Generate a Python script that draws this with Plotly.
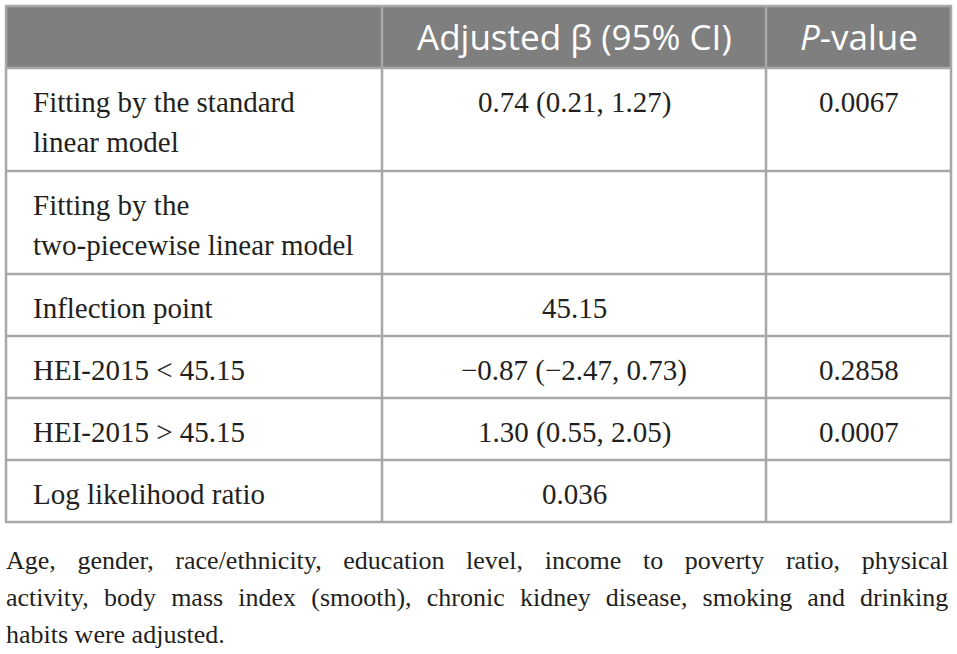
import plotly.graph_objects as go

# ---- data ----
header_labels = ["", "Adjusted β (95% CI)", "<i>P</i>-value"]
row_labels = [
    "Fitting by the standard<br>linear model",
    "Fitting by the<br>two-piecewise linear model",
    "Inflection point",
    "HEI-2015 < 45.15",
    "HEI-2015 > 45.15",
    "Log likelihood ratio",
]
beta_ci = [
    "0.74 (0.21, 1.27)",
    "",
    "45.15",
    "−0.87 (−2.47, 0.73)",
    "1.30 (0.55, 2.05)",
    "0.036",
]
p_values = ["0.0067", "", "", "0.2858", "0.0007", ""]
footnote_lines = [
    "Age, gender, race/ethnicity, education level, income to poverty ratio, physical",
    "activity, body mass index (smooth), chronic kidney disease, smoking and drinking",
    "habits were adjusted.",
]

# ---- layout (pixels) ----
W, H = 957, 654
col_edges = [6, 382, 766, 951]
table_top = 6
header_h = 62
row_h1 = 62      # single-line row height
line_step = 41   # extra height per extra text line
border_col = "#a7a7a7"
header_fill = "#7f7f7f"
text_col = "#231f20"

columns = [row_labels, beta_ci, p_values]
n_rows = len(row_labels)
row_lines = [max(len(c[i].split("<br>")) for c in columns) for i in range(n_rows)]
row_edges = [table_top, table_top + header_h]
for nl in row_lines:
    row_edges.append(row_edges[-1] + row_h1 + line_step * (nl - 1))
table_bottom = row_edges[-1]

fig = go.Figure()
# invisible trace to anchor the pixel axes
fig.add_trace(go.Scatter(x=[0, W], y=[0, H], mode="markers",
                         marker=dict(opacity=0), hoverinfo="skip", showlegend=False))

shapes = []
shapes.append(dict(type="rect", x0=col_edges[0], x1=col_edges[-1], y0=row_edges[0], y1=row_edges[1],
                   fillcolor=header_fill, line=dict(width=0), layer="below"))
for ye in row_edges:
    shapes.append(dict(type="line", x0=col_edges[0] - 1, x1=col_edges[-1] + 1, y0=ye, y1=ye,
                       line=dict(color=border_col, width=2.5)))
for xe in col_edges:
    shapes.append(dict(type="line", x0=xe, x1=xe, y0=row_edges[0], y1=table_bottom,
                       line=dict(color=border_col, width=2.5)))

annotations = []
# header
for j, lab in enumerate(header_labels):
    if not lab:
        continue
    annotations.append(dict(
        text=lab, x=(col_edges[j] + col_edges[j + 1]) / 2, y=row_edges[0] + header_h / 2 - 1,
        xref="x", yref="y", xanchor="center", yanchor="middle", showarrow=False,
        font=dict(family="Open Sans", size=35, color="white")))

# body cells
for j, col in enumerate(columns):
    for i, txt in enumerate(col):
        if not txt:
            continue
        for k, part in enumerate(txt.split("<br>")):
            if j == 0:
                x, xa = col_edges[0] + 25, "left"
            else:
                x, xa = (col_edges[j] + col_edges[j + 1]) / 2, "center"
            annotations.append(dict(
                text=part, x=x, y=row_edges[i + 1] + 34 + 39.5 * k,
                xref="x", yref="y", xanchor=xa, yanchor="middle", showarrow=False,
                font=dict(family="Liberation Serif", size=29, color=text_col)))

# footnote (justified look via widened word gaps)
gaps = ["\u00a0\u00a0\u200a ", "\u00a0\u200a ", " "]
foot_y = [560, 597, 634]
for line, g, yb in zip(footnote_lines, gaps, foot_y):
    annotations.append(dict(
        text=line.replace(" ", g), x=4, y=yb, xref="x", yref="y",
        xanchor="left", yanchor="middle", showarrow=False,
        font=dict(family="Liberation Serif", size=26, color=text_col)))

fig.update_layout(
    width=W, height=H, margin=dict(l=0, r=0, t=0, b=0),
    paper_bgcolor="white", plot_bgcolor="white",
    xaxis=dict(range=[0, W], visible=False, fixedrange=True),
    yaxis=dict(range=[H, 0], visible=False, fixedrange=True),
    shapes=shapes, annotations=annotations,
)
fig.write_html("out.html", config={"displayModeBar": False},
               post_script="document.body.style.margin='0';")
